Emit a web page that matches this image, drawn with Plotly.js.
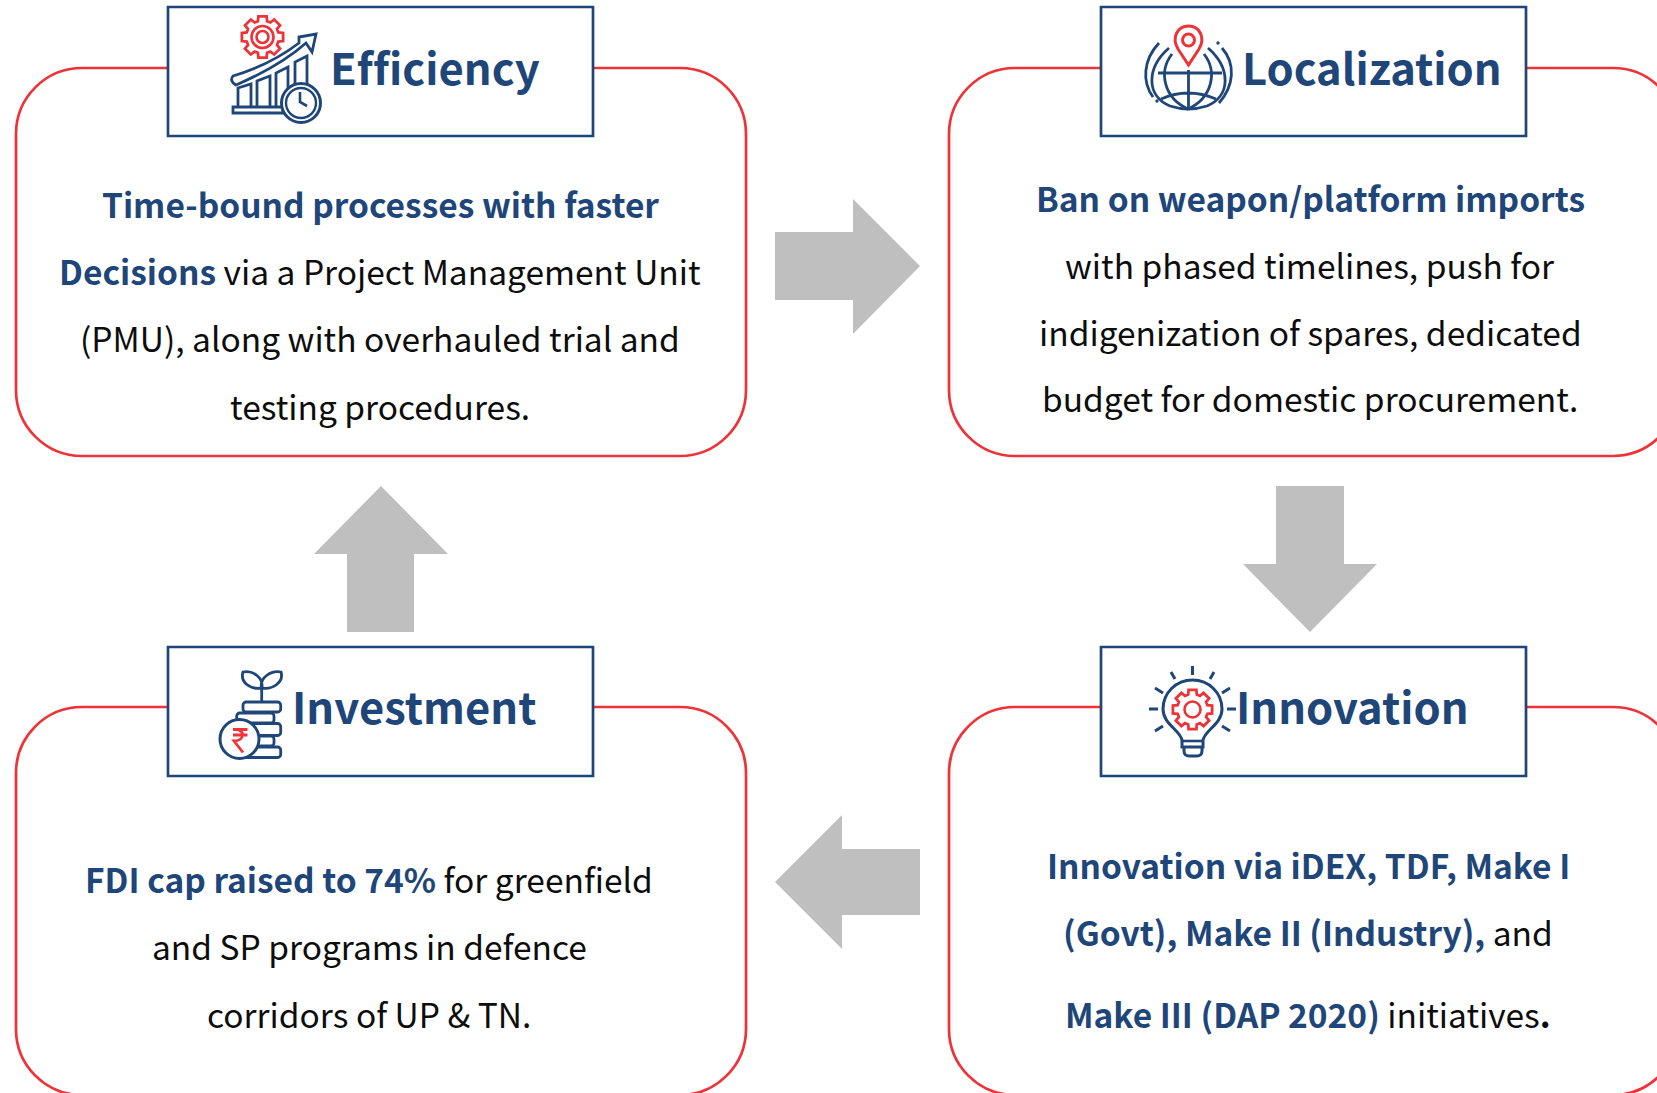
<!DOCTYPE html>
<html><head><meta charset="utf-8">
<script src="https://cdn.plot.ly/plotly-3.0.1.min.js"></script>
<style>html,body{margin:0;padding:0;background:#fff;overflow:hidden}
svg text{font-variant-ligatures:none;font-feature-settings:"liga" 0,"clig" 0}</style>
</head><body><div id="chart" style="width:1657px;height:1093px"></div>
<script>
const NAVY='#1F4679', RED='#EE3338', GREY='#BFBFBF', BODY='#0D0D0D';
const FONT='"Noto Sans CJK SC","Noto Sans",sans-serif';

const headings=['Efficiency','Localization','Investment','Innovation'];
const headingLeft=[328,1240,290,1234];
const headingY=[66,66,705,705];
const headerLeft=[168,1101,168,1101];
const headerTop=[7,7,647,647];
const boxLeft=[16,949,16,949];
const boxTop=[68,68,707,707];
const textCenter=[380,1310,369,1308];
const nb=s=>`<b><span style="color:${NAVY}">${s}</span></b>`;
const bodyLines=[
 [nb('Time-bound processes with faster'), nb('Decisions')+' via a Project Management Unit','(PMU), along with overhauled trial and','testing procedures.'],
 [nb('Ban on weapon/platform imports'),'with phased timelines, push for','indigenization of spares, dedicated','budget for domestic procurement.'],
 [nb('FDI cap raised to 74%')+' for greenfield','and SP programs in defence','corridors of UP &amp; TN.'],
 [nb('Innovation via iDEX, TDF, Make I'),nb('(Govt), Make II (Industry),')+' and',nb('Make III (DAP 2020)')+' initiatives<b>.</b>']
];
const bodyY=[[203,270,337,405],[197,264,331,397],[878,945,1013],[864,931,1013]];

const shapes=[];
const P=(path,color,w,fill)=>shapes.push({type:'path',path,xref:'x',yref:'y',line:{color:color,width:w},fillcolor:fill||'rgba(0,0,0,0)'});
const K=0.4477;
const rr=(x,y,w,h,r)=>{const c=r*K;return `M${x+r},${y}H${x+w-r}C${x+w-c},${y} ${x+w},${y+c} ${x+w},${y+r}V${y+h-r}C${x+w},${y+h-c} ${x+w-c},${y+h} ${x+w-r},${y+h}H${x+r}C${x+c},${y+h} ${x},${y+h-c} ${x},${y+h-r}V${y+r}C${x},${y+c} ${x+c},${y} ${x+r},${y}Z`;};
const circ=(x,y,r)=>rr(x-r,y-r,2*r,2*r,r);
function gear(cx,cy,ro,ri,n){let d='';for(let i=0;i<n;i++){const a=2*Math.PI*i/n-Math.PI/2,s=Math.PI/n;
 [[a-s*0.5,ro],[a+s*0.5,ro],[a+s*0.72,ri],[a+s*1.28,ri]].forEach((p,j)=>{d+=(i==0&&j==0?'M':'L')+(cx+p[1]*Math.cos(p[0])).toFixed(1)+','+(cy+p[1]*Math.sin(p[0])).toFixed(1);});}
 return d+'Z';}

// rounded panels and header tabs
boxLeft.forEach((x,i)=>P(rr(x,boxTop[i],730,388,66),RED,2.7,'#fff'));
headerLeft.forEach((x,i)=>P(`M${x},${headerTop[i]}H${x+425}V${headerTop[i]+129}H${x}Z`,NAVY,2.7,'#fff'));

// process arrows
const arrows=[
 'M775,232H853V199L920,266L853,334V300H775Z',
 'M1276,486H1344V564H1377L1310,632L1243,564H1276Z',
 'M920,849H842V815L775,882L842,949V915H920Z',
 'M347,632V554H314L381,486L448,554H414V632Z'
];
arrows.forEach(a=>P(a,GREY,0,GREY));

// Efficiency icon
P(gear(262.5,37,21,16.5,8),RED,2.8);P(circ(262.5,37,11),RED,2.6);P(circ(262.5,37,6),RED,2.6);
P('M238,107V88L251,84V107M257,107V81L270,76V107M276,107V73L288,67V107M295,107V62L307,56V85',NAVY,2.8);
P('M233,76Q270,65 299,43L299,37L316,34L312,52L306,43Q280,66 236,85Q229,81 233,76Z',NAVY,2.8,'#fff');
P('M233,107H283V113H233Z',NAVY,2.8,'#fff');
P(circ(301,103,19.5),NAVY,3,'#fff');P(circ(301,103,15),NAVY,2.4);P('M300,92V102L307,106',NAVY,2.6);

// Localization icon
P('M1169,48C1146,68 1146,96 1170,106Q1188,112 1207,106C1231,96 1231,68 1208,48',NAVY,2.8);
P('M1172,54C1158,72 1164,98 1188,109C1212,98 1218,72 1204,54',NAVY,2.8);
P('M1158,73H1222M1188.5,70V109M1161,99Q1188,87 1216,99',NAVY,2.8);
P('M1159,43C1143,60 1142,82 1153,97M1222,48C1236,64 1234,86 1219,103',NAVY,2.8);
P(circ(1157,101,0.8),NAVY,1.8,NAVY);P(circ(1218,43,0.8),NAVY,1.8,NAVY);
P('M1188.5,65L1178,49C1171,37 1178,26 1188.5,26C1199,26 1206,37 1199,49Z',RED,3,'#fff');
P(circ(1188.5,40,6),RED,3);

// Investment icon
P('M261.7,702V689M261.7,688C250,690 240,682 243,672C253,670 264,678 261.7,688ZM261.7,688C273,690 284,682 281,672C271,670 259,678 261.7,688Z',NAVY,2.8);
[[243,702,37.7,10],[236.7,713,37.3,10],[243,723.5,37.7,12],[236.7,736,37.3,10],[243,747,37.7,10.5]].forEach(b=>P(rr(b[0],b[1],b[2],b[3],3),NAVY,2.8,'#fff'));
P(circ(239.5,739,19.5),NAVY,3,'#fff');
P('M233,729.5H247.5M233,735H247.5M236,729.5C245,729.5 245,741 234,741L243,752.5',RED,2.8);

// Innovation icon
P('M1182,740C1180,730 1163,724 1163,709C1163,693 1176,680 1192.5,680C1209,680 1222,693 1222,709C1222,724 1205,730 1203,740V747H1182ZM1184,747V751C1184,754 1186,756 1189,756H1197C1200,756 1202,754 1202,751V747',NAVY,3,'#fff');
P('M1182,741H1203',NAVY,2.6);
P(gear(1192.5,709.5,20,15.5,8),RED,2.8);P(circ(1192.5,709.5,8),RED,2.6);
P('M1192.5,666V675M1171,672L1175,679M1214,672L1210,679M1155,688L1163,693M1230,688L1222,693M1149,709H1158M1227,709H1236M1155,731L1163,726M1230,731L1222,726',NAVY,3);

// text
const annotations=[];
headings.forEach((t,i)=>annotations.push({x:headingLeft[i],y:headingY[i],xref:'x',yref:'y',text:`<b>${t}</b>`,showarrow:false,xanchor:'left',yanchor:'middle',font:{family:FONT,size:43.5,color:NAVY}}));
bodyLines.forEach((ls,i)=>ls.forEach((t,j)=>annotations.push({x:textCenter[i],y:bodyY[i][j],xref:'x',yref:'y',text:t,showarrow:false,xanchor:'center',yanchor:'middle',font:{family:FONT,size:33.5,color:BODY}})));

Plotly.newPlot('chart',[],{
 width:1657,height:1093,margin:{l:0,r:0,t:0,b:0},paper_bgcolor:'#fff',plot_bgcolor:'#fff',showlegend:false,
 xaxis:{range:[0,1657],visible:false,fixedrange:true},
 yaxis:{range:[1093,0],visible:false,fixedrange:true},
 shapes,annotations
},{displayModeBar:false,staticPlot:true});
</script></body></html>
